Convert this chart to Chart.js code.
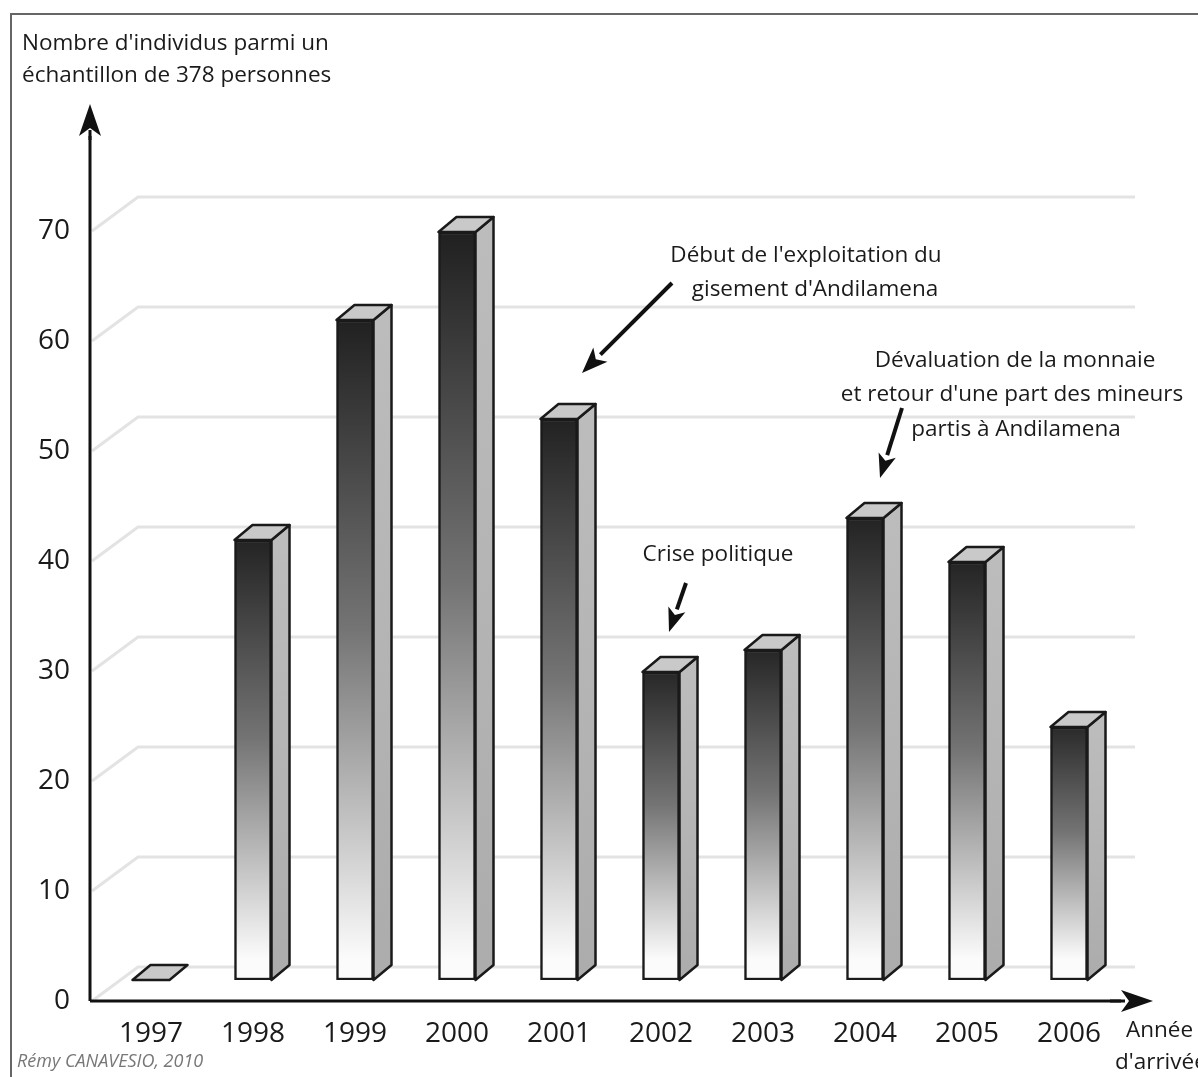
<!DOCTYPE html>
<html>
<head>
<meta charset="utf-8">
<script src="https://cdn.jsdelivr.net/npm/chart.js@4.4.1/dist/chart.umd.min.js"></script>
<style>
  html, body { margin: 0; padding: 0; background: #fff; }
  #wrap { width: 1198px; height: 1077px; }
</style>
</head>
<body>
<div id="wrap"><canvas id="chart" width="1198" height="1077"></canvas></div>
<script>
// --- Données ---
const annees = ['1997', '1998', '1999', '2000', '2001', '2002', '2003', '2004', '2005', '2006'];
const individus = [0, 40, 60, 68, 51, 28, 30, 42, 38, 23];
const yMax = 80;
const yPas = 10;
const yGraduations = [0, 10, 20, 30, 40, 50, 60, 70];

const FONT = "'Open Sans', 'Noto Sans', sans-serif";

// décalage de profondeur (effet 3D)
const BAR_LIFT = 21;       // les barres sont un peu en retrait du plan avant
const DEPTH_X = 18, DEPTH_Y = 15;   // épaisseur des barres
const WALL_X = 48, WALL_Y = 34;     // fond du graphique
const AXIS_X = 90;

function arrow(ctx, x1, y1, x2, y2, w, head, headW) {
    const a = Math.atan2(y2 - y1, x2 - x1);
    const bx = x2 - Math.cos(a) * head, by = y2 - Math.sin(a) * head;
    ctx.save();
    ctx.strokeStyle = '#111';
    ctx.fillStyle = '#111';
    ctx.lineWidth = w;
    ctx.beginPath();
    ctx.moveTo(x1, y1);
    ctx.lineTo(bx, by);
    ctx.stroke();
    ctx.beginPath();
    ctx.moveTo(x2, y2);
    ctx.lineTo(bx + Math.sin(a) * headW, by - Math.cos(a) * headW);
    ctx.lineTo(bx + Math.cos(a) * head * 0.25, by + Math.sin(a) * head * 0.25);
    ctx.lineTo(bx - Math.sin(a) * headW, by + Math.cos(a) * headW);
    ctx.closePath();
    ctx.fill();
    ctx.restore();
}

// --- Grille en perspective (derrière les barres) ---
const grillePlugin = {
    id: 'grille3d',
    beforeDatasetsDraw(chart) {
        const ctx = chart.ctx;
        const y = chart.scales.y;
        const right = chart.chartArea.right + 15;
        ctx.save();
        ctx.strokeStyle = '#e3e3e3';
        ctx.lineWidth = 3;
        yGraduations.forEach(v => {
            const py = y.getPixelForValue(v);
            ctx.beginPath();
            ctx.moveTo(AXIS_X + 2, py);
            ctx.lineTo(AXIS_X + WALL_X, py - WALL_Y);
            ctx.lineTo(right, py - WALL_Y);
            ctx.stroke();
        });
        ctx.restore();
        // les barres sont dessinées un peu en retrait
        ctx.save();
        ctx.translate(0, -BAR_LIFT);
    },
    afterDatasetsDraw(chart) {
        const ctx = chart.ctx;
        const meta = chart.getDatasetMeta(0);
        ctx.lineWidth = 2.5;
        ctx.strokeStyle = '#1a1a1a';
        ctx.lineJoin = 'round';
        meta.data.forEach(bar => {
            const p = bar.getProps(['x', 'y', 'base', 'width'], true);
            const l = p.x - p.width / 2, r = p.x + p.width / 2;
            const top = p.y, base = p.base;
            // face latérale
            if (base - top > 0.5) {
                const g = ctx.createLinearGradient(0, top, 0, base);
                g.addColorStop(0, '#bcbcbc');
                g.addColorStop(1, '#acacac');
                ctx.beginPath();
                ctx.moveTo(r, top);
                ctx.lineTo(r + DEPTH_X, top - DEPTH_Y);
                ctx.lineTo(r + DEPTH_X, base - DEPTH_Y);
                ctx.lineTo(r, base);
                ctx.closePath();
                ctx.fillStyle = g;
                ctx.fill();
                ctx.stroke();
            }
            // face du dessus
            ctx.beginPath();
            ctx.moveTo(l, top);
            ctx.lineTo(l + DEPTH_X, top - DEPTH_Y);
            ctx.lineTo(r + DEPTH_X, top - DEPTH_Y);
            ctx.lineTo(r, top);
            ctx.closePath();
            ctx.fillStyle = '#c9c9c9';
            ctx.fill();
            ctx.stroke();
        });
        ctx.restore();

        // axes
        const y = chart.scales.y;
        const y0 = y.getPixelForValue(0);
        ctx.save();
        ctx.strokeStyle = '#111';
        ctx.lineWidth = 3;
        ctx.beginPath();
        ctx.moveTo(AXIS_X, y0);
        ctx.lineTo(AXIS_X, 130);
        ctx.stroke();
        ctx.beginPath();
        ctx.moveTo(AXIS_X, y0);
        ctx.lineTo(1125, y0);
        ctx.stroke();
        ctx.restore();
        arrow(ctx, AXIS_X, 140, AXIS_X, 104, 3, 32, 11);
        arrow(ctx, 1110, y0, 1153, y0, 3, 32, 11);
    }
};

// --- Textes et annotations ---
const textesPlugin = {
    id: 'textes',
    afterDraw(chart) {
        const ctx = chart.ctx;
        ctx.save();
        // cadre
        ctx.strokeStyle = '#666';
        ctx.lineWidth = 2;
        ctx.strokeRect(11, 14, 1200, 1100);

        ctx.fillStyle = '#1a1a1a';
        ctx.textBaseline = 'middle';
        ctx.font = '22.5px ' + FONT;
        ctx.textAlign = 'left';
        ctx.fillText("Nombre d'individus parmi un", 22, 44);
        ctx.fillText("échantillon de 378 personnes", 22, 76);

        ctx.textAlign = 'center';
        ctx.fillText("Début de l'exploitation du", 806, 256);
        ctx.fillText("gisement d'Andilamena", 815, 290);
        ctx.fillText("Crise politique", 718, 555);
        ctx.fillText("Dévaluation de la monnaie", 1015, 361);
        ctx.fillText("et retour d'une part des mineurs", 1012, 395);
        ctx.fillText("partis à Andilamena", 1016, 430);

        ctx.textAlign = 'left';
        ctx.fillText("Année", 1126, 1031);
        ctx.fillText("d'arrivée", 1115, 1063);

        ctx.fillStyle = '#777';
        ctx.font = 'italic 18px ' + FONT;
        ctx.fillText("Rémy CANAVESIO, 2010", 17, 1062);
        ctx.restore();

        arrow(ctx, 672, 283, 582, 373, 4, 26, 10);
        arrow(ctx, 686, 583, 669, 632, 4, 24, 9);
        arrow(ctx, 902, 408, 880, 478, 4, 24, 9);
    }
};

const ctx = document.getElementById('chart').getContext('2d');

new Chart(ctx, {
    type: 'bar',
    data: {
        labels: annees,
        datasets: [{
            data: individus,
            backgroundColor: (c) => {
                const chart = c.chart;
                if (!chart.chartArea) return '#888';
                const ys = chart.scales.y;
                const top = ys.getPixelForValue(individus[c.dataIndex]) - BAR_LIFT;
                const base = ys.getPixelForValue(0) - BAR_LIFT;
                if (base - top < 1) return '#c9c9c9';
                const g = chart.ctx.createLinearGradient(0, top, 0, base);
                g.addColorStop(0, '#1b1b1b');
                g.addColorStop(0.5, '#747474');
                g.addColorStop(1, '#fbfbfb');
                return g;
            },
            borderColor: '#1a1a1a',
            borderWidth: 2.5,
            borderSkipped: false,
            barThickness: 37
        }]
    },
    options: {
        responsive: false,
        animation: false,
        layout: { padding: { top: 121, right: 78, left: 0, bottom: 0 } },
        plugins: {
            legend: { display: false },
            tooltip: { enabled: false },
            title: { display: false }
        },
        scales: {
            x: {
                offset: true,
                grid: { display: false },
                border: { display: false },
                ticks: {
                    color: '#1a1a1a',
                    font: { family: FONT, size: 28 },
                    padding: 8
                },
                afterFit: (s) => { s.height = 76; }
            },
            y: {
                min: 0,
                max: yMax,
                grid: { display: false },
                border: { display: false },
                ticks: {
                    stepSize: yPas,
                    color: '#1a1a1a',
                    font: { family: FONT, size: 28 },
                    padding: 22,
                    callback: (v) => (v < yMax ? v : '')
                },
                afterFit: (s) => { s.width = 100; }
            }
        }
    },
    plugins: [grillePlugin, textesPlugin]
});
</script>
</body>
</html>
